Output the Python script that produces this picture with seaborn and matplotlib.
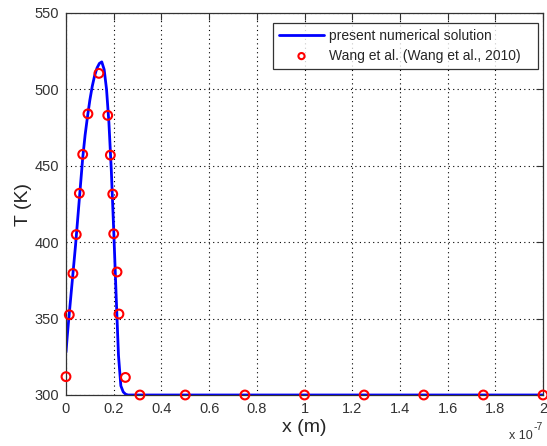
import matplotlib
matplotlib.use("Agg")
import matplotlib.pyplot as plt
import seaborn as sns
import numpy as np
import pandas as pd

# x positions are in units of 1e-7 m
x_line = [0, 0.005, 0.01, 0.02, 0.03, 0.04, 0.05, 0.06, 0.07, 0.08, 0.09, 0.10,
          0.11, 0.12, 0.13, 0.14, 0.15, 0.16, 0.17, 0.18, 0.19, 0.20, 0.21, 0.22,
          0.23, 0.24, 0.25, 0.26, 0.30, 2.0]
T_line = [328, 338, 347, 364, 381, 398, 417, 436, 455, 470, 482, 493,
          502, 509, 514, 517, 518, 513, 500, 478, 447, 408, 366, 326,
          306, 302, 300.5, 300, 300, 300]

x_wang = [0, 0.0138, 0.029, 0.043, 0.056, 0.070, 0.092, 0.138, 0.175, 0.186,
          0.196, 0.200, 0.214, 0.222, 0.249, 0.31, 0.5, 0.75, 1.0, 1.25, 1.5,
          1.75, 2.0]
T_wang = [312, 352.5, 379.5, 405, 432, 457.5, 484, 510.5, 483, 457,
          431.5, 405.5, 380.5, 353, 311.5, 300, 300, 300, 300, 300, 300,
          300, 300]

x_ticks = [0, 0.2, 0.4, 0.6, 0.8, 1.0, 1.2, 1.4, 1.6, 1.8, 2.0]
x_tick_labels = ["0", "0.2", "0.4", "0.6", "0.8", "1", "1.2", "1.4", "1.6", "1.8", "2"]
y_ticks = [300, 350, 400, 450, 500, 550]

sns.set_style("white")
plt.rcParams['font.family'] = ['Liberation Sans', 'DejaVu Sans']

fig = plt.figure(figsize=(5.47, 4.46), dpi=100)
ax = fig.add_axes([66 / 547, 51 / 446, 477 / 547, 382 / 446])

line_df = pd.DataFrame({"x": x_line, "T": T_line})
wang_df = pd.DataFrame({"x": x_wang, "T": T_wang})

sns.lineplot(data=line_df, x="x", y="T", ax=ax, color="#0000ff", linewidth=2,
             label="present numerical solution", sort=False)
sns.scatterplot(data=wang_df, x="x", y="T", ax=ax, marker="o", s=40,
                facecolors="none", edgecolor="#ff0000", linewidth=1.5,
                label="Wang et al. (Wang et al., 2010)", zorder=3, clip_on=False)

ax.set_xlim(0, 2)
ax.set_ylim(300, 550)
ax.set_xticks(x_ticks)
ax.set_xticklabels(x_tick_labels)
ax.set_yticks(y_ticks)
ax.tick_params(direction="in", length=5, labelsize=10.5, colors="#333333",
               top=True, right=True, pad=5)
ax.grid(True, linestyle=(0, (1, 3)), color="black", linewidth=0.8)
for sp in ax.spines.values():
    sp.set_color("#333333")
    sp.set_linewidth(0.9)

ax.set_xlabel("x (m)", fontsize=14, labelpad=2)
ax.set_ylabel("T (K)", fontsize=14, labelpad=2)
fig.text(533 / 547, 10 / 446, "x 10", ha="right", va="center", fontsize=9,
         color="#333333")
fig.text(533.5 / 547, 19 / 446, "-7", ha="left", va="center", fontsize=7.5,
         color="#333333")

leg = ax.legend(loc="upper left", bbox_to_anchor=(0.434, 0.856, 0.5555, 0.118),
                mode="expand", borderaxespad=0, fontsize=10, frameon=True,
                fancybox=False, edgecolor="black", borderpad=0.45,
                handlelength=3.2, handletextpad=0.4, labelspacing=0.4,
                markerscale=0.7)
leg.get_frame().set_linewidth(0.9)

fig.savefig("out.png", dpi=100)
